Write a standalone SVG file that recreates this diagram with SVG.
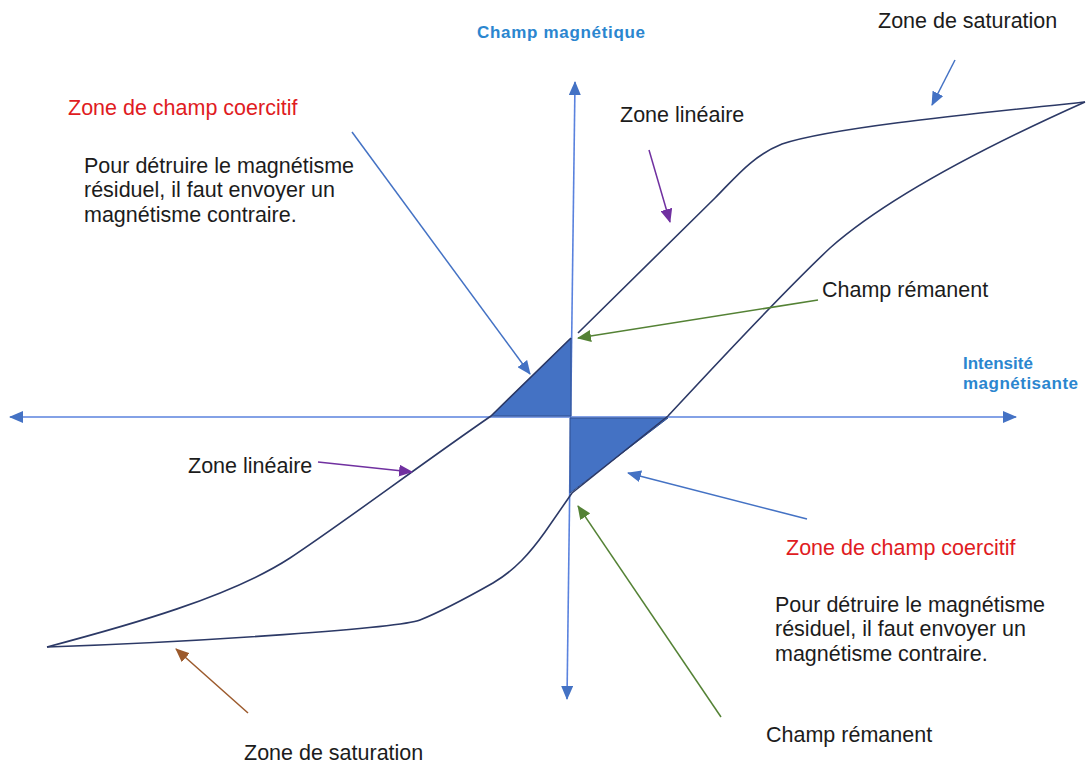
<svg xmlns="http://www.w3.org/2000/svg" width="1091" height="765" viewBox="0 0 1091 765">
  <style>
    .txt { font-family: "Liberation Sans", Arial, sans-serif; font-size: 21.5px; fill: #1c1c1c; }
    .red { fill: #e01b22; }
    .axis-label { font-family: "Liberation Sans", Arial, sans-serif; font-size: 17px; font-weight: bold; fill: #2b86cf; }
    .axis { stroke: #5a82de; stroke-width: 1.6; fill: none; }
    .curve { stroke: #2c3966; stroke-width: 1.6; fill: none; stroke-linejoin: round; }
    .zone { fill: #4472c4; stroke: #2f4f8f; stroke-width: 1; }
    .ptr { stroke-width: 1.5; fill: none; }
  </style>
  <defs>
    <marker id="head-axis" viewBox="0 0 14 12" refX="13" refY="6" markerWidth="14" markerHeight="12" markerUnits="userSpaceOnUse" orient="auto-start-reverse">
      <path d="M0,0 L14,6 L0,12 z" fill="#4472c4"/>
    </marker>
    <marker id="head-blue" viewBox="0 0 14 12" refX="13" refY="6" markerWidth="14" markerHeight="12" markerUnits="userSpaceOnUse" orient="auto">
      <path d="M0,0 L14,6 L0,12 z" fill="#4472c4"/>
    </marker>
    <marker id="head-green" viewBox="0 0 14 12" refX="13" refY="6" markerWidth="14" markerHeight="12" markerUnits="userSpaceOnUse" orient="auto">
      <path d="M0,0 L14,6 L0,12 z" fill="#548235"/>
    </marker>
    <marker id="head-purple" viewBox="0 0 14 12" refX="13" refY="6" markerWidth="14" markerHeight="12" markerUnits="userSpaceOnUse" orient="auto">
      <path d="M0,0 L14,6 L0,12 z" fill="#7030a0"/>
    </marker>
    <marker id="head-brown" viewBox="0 0 14 12" refX="13" refY="6" markerWidth="14" markerHeight="12" markerUnits="userSpaceOnUse" orient="auto">
      <path d="M0,0 L14,6 L0,12 z" fill="#9c5a2c"/>
    </marker>
  </defs>

  <rect width="1091" height="765" fill="#ffffff"/>

  <!-- axes -->
  <g id="axes">
    <path class="axis" d="M10,417 L1016,417" marker-start="url(#head-axis)" marker-end="url(#head-axis)"/>
    <path class="axis" d="M575,82 L567,699" marker-start="url(#head-axis)" marker-end="url(#head-axis)"/>
  </g>

  <!-- coercive field zones -->
  <g id="zone-coercive-upper">
    <polygon class="zone" points="491,416 571,338 571,416"/>
  </g>
  <g id="zone-coercive-lower">
    <polygon class="zone" points="570,418 668,418 570,493"/>
  </g>

  <!-- hysteresis loop -->
  <g id="hysteresis">
    <path class="curve" d="M578,333 L715,198 C735,178 752,156 782,144 C830,128 960,115 1085,102"/>
    <path class="curve" d="M1085,102 C1000,140 890,195 830,248 C780,295 720,360 668,416 L572,493 L545,532 C530,553 515,570 493,583 C470,596 440,612 420,620 C400,628 200,642 47,647"/>
    <path class="curve" d="M571,338 L491,416 C420,465 340,525 290,558 C230,597 130,625 47,647"/>
  </g>

  <!-- pointer arrows -->
  <g id="connectors">
    <path class="ptr" stroke="#4472c4" d="M352,132 L530,374" marker-end="url(#head-blue)"/>
    <path class="ptr" stroke="#548235" d="M818,300 L578,338" marker-end="url(#head-green)"/>
    <path class="ptr" stroke="#4472c4" d="M807,519 L628,473" marker-end="url(#head-blue)"/>
    <path class="ptr" stroke="#548235" d="M721,717 L578,506" marker-end="url(#head-green)"/>
    <path class="ptr" stroke="#7030a0" d="M649,150 L670,222" marker-end="url(#head-purple)"/>
    <path class="ptr" stroke="#7030a0" d="M318,462 L412,472" marker-end="url(#head-purple)"/>
    <path class="ptr" stroke="#9c5a2c" d="M248,713 L176,649" marker-end="url(#head-brown)"/>
    <path class="ptr" stroke="#4472c4" d="M955,60 L932,105" marker-end="url(#head-blue)"/>
  </g>

  <!-- labels -->
  <g id="label-axis-y">
    <text class="axis-label" x="477" y="38" textLength="168">Champ magnétique</text>
  </g>
  <g id="label-axis-x">
    <text class="axis-label" x="963" y="369">Intensité</text>
    <text class="axis-label" x="963" y="389" textLength="115">magnétisante</text>
  </g>
  <g id="label-saturation-top">
    <text class="txt" x="878" y="28">Zone de saturation</text>
  </g>
  <g id="label-linear-top">
    <text class="txt" x="620" y="122">Zone linéaire</text>
  </g>
  <g id="label-coercive-top">
    <text class="txt red" x="68" y="115">Zone de champ coercitif</text>
    <text class="txt" x="84" y="173">Pour détruire le magnétisme</text>
    <text class="txt" x="84" y="197">résiduel, il faut envoyer un</text>
    <text class="txt" x="84" y="222">magnétisme contraire.</text>
  </g>
  <g id="label-remanent-top">
    <text class="txt" x="822" y="297">Champ rémanent</text>
  </g>
  <g id="label-linear-left">
    <text class="txt" x="188" y="473">Zone linéaire</text>
  </g>
  <g id="label-coercive-bottom">
    <text class="txt red" x="786" y="555">Zone de champ coercitif</text>
    <text class="txt" x="775" y="612">Pour détruire le magnétisme</text>
    <text class="txt" x="775" y="636">résiduel, il faut envoyer un</text>
    <text class="txt" x="775" y="661">magnétisme contraire.</text>
  </g>
  <g id="label-remanent-bottom">
    <text class="txt" x="766" y="742">Champ rémanent</text>
  </g>
  <g id="label-saturation-bottom">
    <text class="txt" x="244" y="760">Zone de saturation</text>
  </g>
</svg>
